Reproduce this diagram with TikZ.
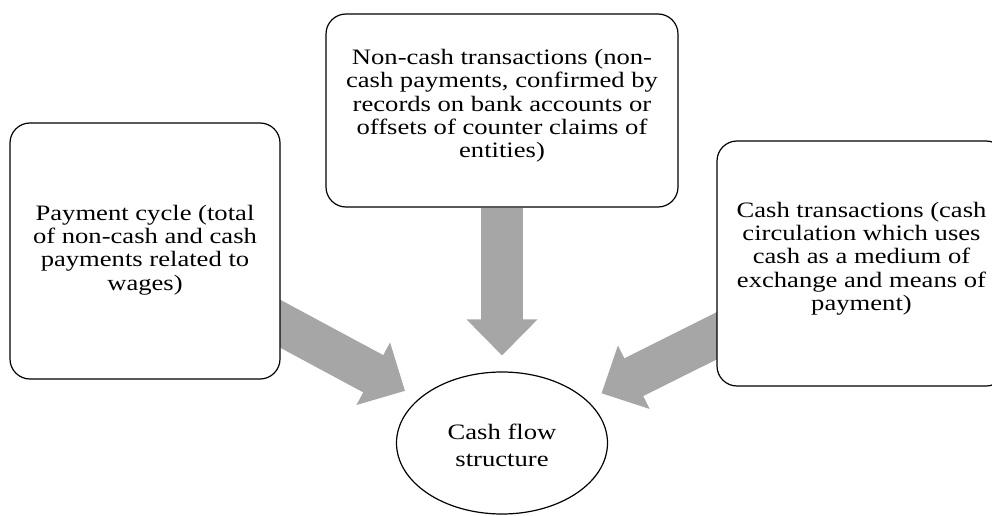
\documentclass[tikz,border=0pt]{standalone}
\usepackage{fontspec}
\setmainfont{Liberation Serif}[FakeStretch=1.21]
\usetikzlibrary{arrows.meta}
\usetikzlibrary{calc}
\usetikzlibrary{backgrounds}
\usetikzlibrary{shapes.geometric}
\definecolor{flowgray}{RGB}{166,166,166}
\tikzstyle{roundbox}=[draw=black,line width=1.2pt,rounded corners=20pt,fill=white]
\tikzstyle{boxtext}=[align=center,inner sep=0pt,font=\fontsize{22}{23.3}\selectfont]
\tikzstyle{fatarrow}=[draw=flowgray,line width=42pt,shorten >=16pt,-{Triangle[width=71pt,length=36pt,line width=0pt]}]
\tikzstyle{fatshaft}=[draw=flowgray,line width=42pt,shorten >=44pt]

\begin{document}
\begin{tikzpicture}[x=1pt,y=-1pt]
    \useasboundingbox (0,0) rectangle (992,516);
    % the three sources
    \node[roundbox,minimum width=270pt,minimum height=256pt] (wages) at (145,251) {};
    \node[roundbox,minimum width=352pt,minimum height=193pt] (noncash) at (502,110.5) {};
    \node[roundbox,minimum width=289pt,minimum height=245pt] (cash) at (861.5,263.5) {};
    \node[boxtext] (wagestext) at (145,250) {Payment cycle (total\\of non-cash and cash\\payments related to\\wages)};
    \node[boxtext] (noncashtext) at (502,106) {Non-cash transactions (non-\\cash payments, confirmed by\\records on bank accounts or\\offsets of counter claims of\\entities)};
    \node[boxtext] (cashtext) at (861.5,258.5) {Cash transactions (cash\\circulation which uses\\cash as a medium of\\exchange and means of\\payment)};
    % the target
    \node[draw=black,ellipse,line width=1.2pt,fill=white,minimum width=211pt,minimum height=142pt] (flow) at (502,443) {};
    \node[boxtext,font=\fontsize{22}{27}\selectfont] (flowtext) at (502,445) {Cash flow\\structure};

    \begin{pgfonlayer}{background}
      \foreach \src in {wages.center,noncash,cash.center}{
        \draw[fatarrow] (\src) -- (flow);
        \draw[fatshaft] (\src) -- (flow);
      }
    \end{pgfonlayer}
\end{tikzpicture}
\end{document}
